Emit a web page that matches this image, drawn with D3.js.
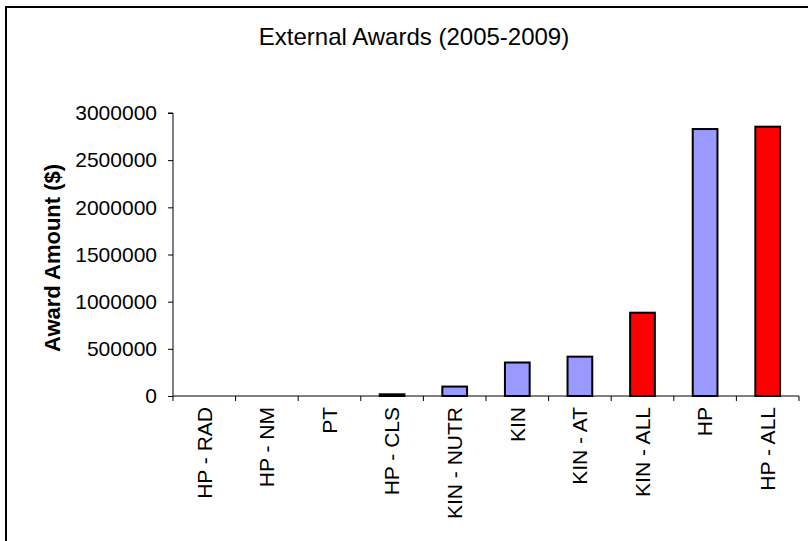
<!DOCTYPE html>
<html><head><meta charset="utf-8">
<script src="https://cdn.jsdelivr.net/npm/d3@7"></script>
<style>
html,body{margin:0;padding:0;background:#fff;}
svg{display:block;font-family:"Liberation Sans",Arial,sans-serif;}
</style></head>
<body>
<svg id="chart" width="808" height="541"></svg>
<script>
const categories = ["HP - RAD","HP - NM","PT","HP - CLS","KIN - NUTR","KIN","KIN - AT","KIN - ALL","HP","HP - ALL"];
const values = [0,0,0,18000,100000,355000,417000,883000,2830000,2855000];
const groups = ["part","part","part","part","part","part","part","all","part","all"];
const yTicks = [0,500000,1000000,1500000,2000000,2500000,3000000];
const title = "External Awards (2005-2009)";
const yTitle = "Award Amount ($)";

(function(){
const svg = d3.select("#chart");
const pL = 173, pR = 799, pT = 113, pB = 396;
const colors = {part:"#9999FF", all:"#FF0000"};

// outer frame
svg.append("rect").attr("x",6).attr("y",7).attr("width",900).attr("height",700)
  .attr("fill","none").attr("stroke","#000").attr("stroke-width",2);

svg.append("text").attr("x",414).attr("y",45).attr("text-anchor","middle")
  .attr("font-size",24).attr("fill","#000").text(title);

const x = d3.scaleBand().domain(categories).range([pL,pR]).paddingInner(0.605).paddingOuter(0.3025);
const y = d3.scaleLinear().domain([0,3000000]).range([pB,pT]);

// y axis
const ya = svg.append("g").attr("transform",`translate(${pL},0)`)
  .call(d3.axisLeft(y).tickValues(yTicks).tickFormat(d3.format("d")).tickSize(5).tickPadding(11));
ya.select(".domain").attr("stroke","#000").attr("d",`M-5,${pT}H0V${pB}`);
ya.selectAll("text").attr("font-size",21).attr("fill","#000").attr("font-family","Liberation Sans, Arial, sans-serif");

svg.append("text").attr("transform",`translate(60,258) rotate(-90)`)
  .attr("text-anchor","middle").attr("font-size",22).attr("font-weight","bold").text(yTitle);

// bars
const data = categories.map((c,i)=>({c, v:values[i], g:groups[i]}));
svg.append("g").selectAll("rect").data(data).join("rect")
  .attr("x",d=>x(d.c)).attr("width",x.bandwidth())
  .attr("y",d=>y(d.v)).attr("height",d=>y(0)-y(d.v))
  .attr("fill",d=>colors[d.g]).attr("stroke","#000").attr("stroke-width",2);

// x axis
const xa = svg.append("g").attr("transform",`translate(0,${pB})`)
  .call(d3.axisBottom(x).tickSize(0).tickPadding(10));
xa.select(".domain").attr("stroke","#000").attr("d",`M${pL},0H${pR}`);
xa.selectAll(".tick text").attr("font-size",21).attr("fill","#000")
  .attr("font-family","Liberation Sans, Arial, sans-serif")
  .attr("transform","rotate(-90)").attr("text-anchor","end")
  .attr("x",-11).attr("y",0).attr("dy","0.35em");
const bounds = d3.range(categories.length+1).map(i=>pL + i*x.step());
xa.selectAll(".bt").data(bounds).join("line").attr("class","bt")
  .attr("x1",d=>d).attr("x2",d=>d).attr("y1",0).attr("y2",5).attr("stroke","#000");
})();
</script>
</body></html>
